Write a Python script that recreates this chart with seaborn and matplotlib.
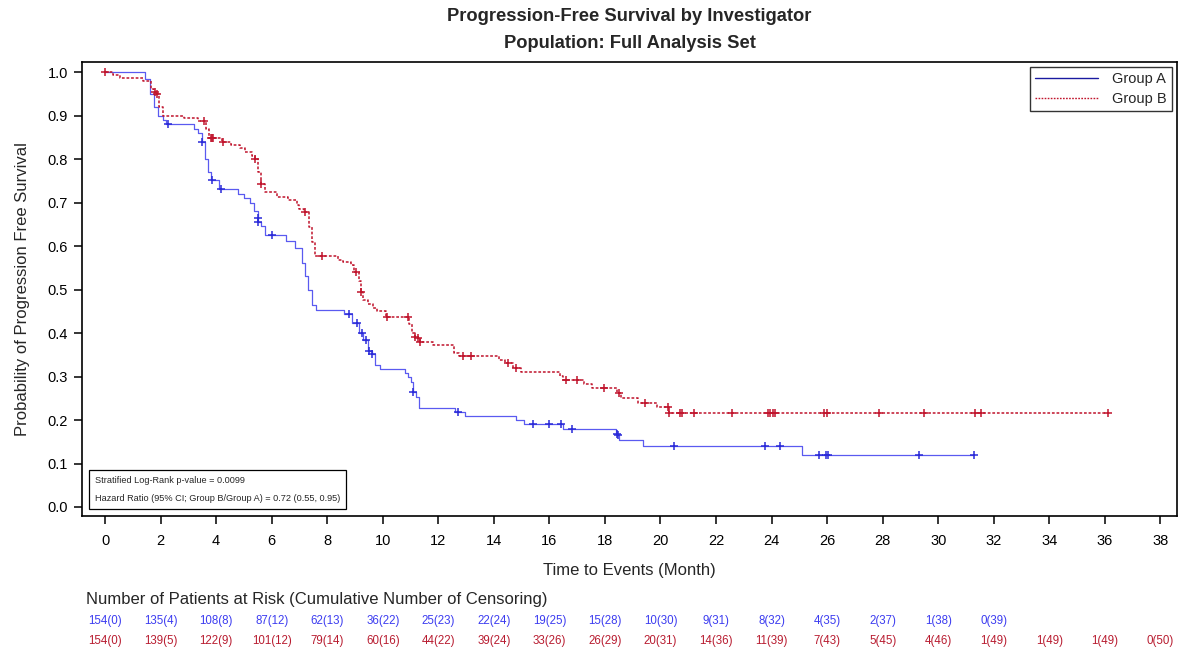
import numpy as np
import pandas as pd
import matplotlib
matplotlib.use("Agg")
import matplotlib.pyplot as plt
import matplotlib.transforms as mtrans
from matplotlib.lines import Line2D
import seaborn as sns

# ---------------- data ----------------
groups = ["Group A", "Group B"]

a_times = [0, 1.45, 1.6, 1.75, 1.9, 2.1, 2.2, 3.2, 3.35, 3.5, 3.6, 3.7, 3.8, 4.1, 4.8,
           5.0, 5.2, 5.35, 5.5, 5.51, 5.6, 5.75, 6.5, 6.85, 7.1, 7.2, 7.3, 7.45, 7.6,
           8.6, 8.9, 9.15, 9.3, 9.45, 9.6, 9.73, 9.9, 10.8, 10.9, 11.0, 11.1, 11.2,
           11.3, 12.6, 12.95, 14.8, 15.07, 16.5, 18.4, 18.46, 18.5, 19.37, 25.1]
a_surv = [1.0, 0.985, 0.95, 0.92, 0.90, 0.89, 0.88, 0.87, 0.86, 0.84, 0.80, 0.77,
          0.752, 0.731, 0.72, 0.71, 0.70, 0.68, 0.664, 0.655, 0.645, 0.625, 0.611,
          0.595, 0.56, 0.53, 0.50, 0.464, 0.453, 0.444, 0.423, 0.40, 0.384, 0.359,
          0.352, 0.326, 0.317, 0.308, 0.299, 0.287, 0.264, 0.253, 0.228, 0.219,
          0.209, 0.20, 0.19, 0.179, 0.168, 0.165, 0.154, 0.14, 0.12]
a_cens = [2.27, 3.5, 3.86, 4.18, 5.5, 5.52, 6.0, 8.77, 9.08, 9.26, 9.41, 9.52, 9.62,
          11.1, 12.7, 15.4, 16.0, 16.4, 16.8, 18.42, 18.47, 20.5, 23.75, 24.3, 25.7,
          25.97, 26.02, 29.3, 31.3]

b_times = [0, 0.3, 0.55, 1.37, 1.65, 1.75, 1.85, 1.95, 2.1, 2.85, 3.35, 3.65, 3.75,
           4.2, 4.55, 4.85, 5.05, 5.3, 5.38, 5.5, 5.6, 5.75, 6.2, 6.6, 6.9, 7.0, 7.15,
           7.33, 7.45, 7.57, 8.4, 8.58, 8.87, 8.95, 9.15, 9.2, 9.3, 9.48, 9.66, 9.8,
           10.1, 10.95, 11.05, 11.15, 11.25, 11.35, 11.8, 12.55, 12.75, 14.17, 14.4,
           14.7, 14.97, 16.37, 16.5, 17.24, 17.55, 18.45, 18.57, 19.2, 19.86, 20.3]
b_surv = [1.0, 0.994, 0.987, 0.98, 0.96, 0.954, 0.949, 0.92, 0.90, 0.895, 0.888,
          0.87, 0.848, 0.839, 0.832, 0.825, 0.816, 0.808, 0.80, 0.77, 0.742, 0.724,
          0.712, 0.705, 0.694, 0.686, 0.678, 0.644, 0.61, 0.577, 0.568, 0.564, 0.556,
          0.54, 0.52, 0.494, 0.476, 0.467, 0.457, 0.451, 0.437, 0.42, 0.40, 0.39,
          0.388, 0.38, 0.372, 0.354, 0.347, 0.338, 0.33, 0.32, 0.31, 0.301, 0.292,
          0.283, 0.273, 0.263, 0.25, 0.24, 0.229, 0.215]
b_cens = [0.0, 1.8, 1.87, 3.57, 3.8, 3.85, 3.9, 4.25, 5.41, 5.62, 7.2, 7.8, 9.05,
          9.23, 10.16, 10.9, 11.17, 11.25, 11.35, 12.9, 13.16, 14.5, 14.8, 16.58,
          16.98, 17.95, 18.5, 19.43, 20.28, 20.32, 20.7, 20.76, 21.2, 22.57, 23.86,
          23.94, 24.04, 24.12, 25.9, 26.0, 27.87, 29.5, 31.33, 31.55, 36.1]

risk_months = list(range(0, 40, 2))
risk_a = ["154(0)", "135(4)", "108(8)", "87(12)", "62(13)", "36(22)", "25(23)",
          "22(24)", "19(25)", "15(28)", "10(30)", "9(31)", "8(32)", "4(35)",
          "2(37)", "1(38)", "0(39)"]
risk_b = ["154(0)", "139(5)", "122(9)", "101(12)", "79(14)", "60(16)", "44(22)",
          "39(24)", "33(26)", "26(29)", "20(31)", "14(36)", "11(39)", "7(43)",
          "5(45)", "4(46)", "1(49)", "1(49)", "1(49)", "0(50)"]

stats_lines = ["Stratified Log-Rank p-value = 0.0099",
               "Hazard Ratio (95% CI; Group B/Group A) = 0.72 (0.55, 0.95)"]

# ---------------- style ----------------
sns.set_theme(style="ticks")
plt.rcParams["font.family"] = ["Liberation Sans", "DejaVu Sans"]

col_a_line = "#5a5af0"
col_a_mark = "#2a2ad8"
col_b = "#c0142c"
col_a_txt = "#3c3cf0"
col_b_txt = "#b81c30"

fig = plt.figure(figsize=(11.79, 6.53), dpi=100)
ax = fig.add_axes([0.0696, 0.2098, 0.9287, 0.6952])


def curve_frame(times, surv, cens):
    t_end = max(max(cens), times[-1])
    t = list(times) + [t_end]
    s = list(surv) + [surv[-1]]
    return pd.DataFrame({"t": t, "s": s})


def cens_frame(times, surv, cens):
    times = np.asarray(times)
    surv = np.asarray(surv)
    idx = np.searchsorted(times, np.asarray(cens), side="right") - 1
    return pd.DataFrame({"t": cens, "s": surv[idx]})


dfa = curve_frame(a_times, a_surv, a_cens)
dfb = curve_frame(b_times, b_surv, b_cens)
ca = cens_frame(a_times, a_surv, a_cens)
cb = cens_frame(b_times, b_surv, b_cens)

sns.lineplot(data=dfa, x="t", y="s", ax=ax, estimator=None, sort=False,
             drawstyle="steps-post", color=col_a_line, linewidth=0.9)
sns.lineplot(data=dfb, x="t", y="s", ax=ax, estimator=None, sort=False,
             drawstyle="steps-post", color=col_b, linewidth=1.1,
             linestyle=(0, (1.8, 1.2)))
sns.scatterplot(data=ca, x="t", y="s", ax=ax, marker="+", s=36, color=col_a_mark,
                linewidth=1.1, zorder=4)
sns.scatterplot(data=cb, x="t", y="s", ax=ax, marker="+", s=36, color=col_b,
                linewidth=1.1, zorder=4)

ax.set_xlim(-0.83, 38.6)
ax.set_ylim(-0.0207, 1.023)
ax.set_xticks(risk_months)
ax.set_yticks(np.round(np.arange(0, 1.01, 0.1), 1))
ax.set_yticklabels([f"{v:.1f}" for v in np.arange(0, 1.01, 0.1)])
ax.tick_params(axis="both", direction="out", length=6, width=1.1, color="black",
               labelsize=10.5, labelcolor="black")
ax.tick_params(axis="x", pad=7)
ax.tick_params(axis="y", pad=4)
for sp in ax.spines.values():
    sp.set_visible(True)
    sp.set_color("black")
    sp.set_linewidth(1.2)

ax.set_xlabel("Time to Events (Month)", fontsize=12, labelpad=11)
ax.set_ylabel("Probability of Progression Free Survival", fontsize=12, labelpad=13)
ax.set_title("Progression-Free Survival by Investigator\nPopulation: Full Analysis Set",
             fontsize=13.2, fontweight="bold", pad=10, linespacing=1.75)

handles = [Line2D([], [], color="#1a1aa0", lw=1.0),
           Line2D([], [], color=col_b, lw=1.0, linestyle=(0, (1.2, 1.0)))]
leg = ax.legend(handles, groups, loc="upper right", fontsize=10.5, frameon=True,
                fancybox=False, edgecolor="black", handlelength=4.3,
                borderaxespad=0.35, labelspacing=0.42, handletextpad=1.0,
                borderpad=0.35, markerfirst=True)
leg.get_frame().set_linewidth(1.0)

# statistics box
ax.text(0.012, 0.029, "\n".join(stats_lines), transform=ax.transAxes, fontsize=6.6,
        va="bottom", ha="left", linespacing=2.2,
        bbox=dict(boxstyle="square,pad=0.65", facecolor="white", edgecolor="black",
                  linewidth=0.9))

# risk table
trans = mtrans.blended_transform_factory(ax.transData, ax.transAxes)
ax.text(-0.685, -0.183, "Number of Patients at Risk (Cumulative Number of Censoring)",
        transform=trans, fontsize=12, ha="left", va="center", clip_on=False)
for m, lab in zip(risk_months, risk_a):
    ax.text(m, -0.231, lab, transform=trans, fontsize=8.3, ha="center", va="center",
            color=col_a_txt, clip_on=False)
for m, lab in zip(risk_months, risk_b):
    ax.text(m, -0.275, lab, transform=trans, fontsize=8.3, ha="center", va="center",
            color=col_b_txt, clip_on=False)

fig.savefig("out.png", dpi=100)
